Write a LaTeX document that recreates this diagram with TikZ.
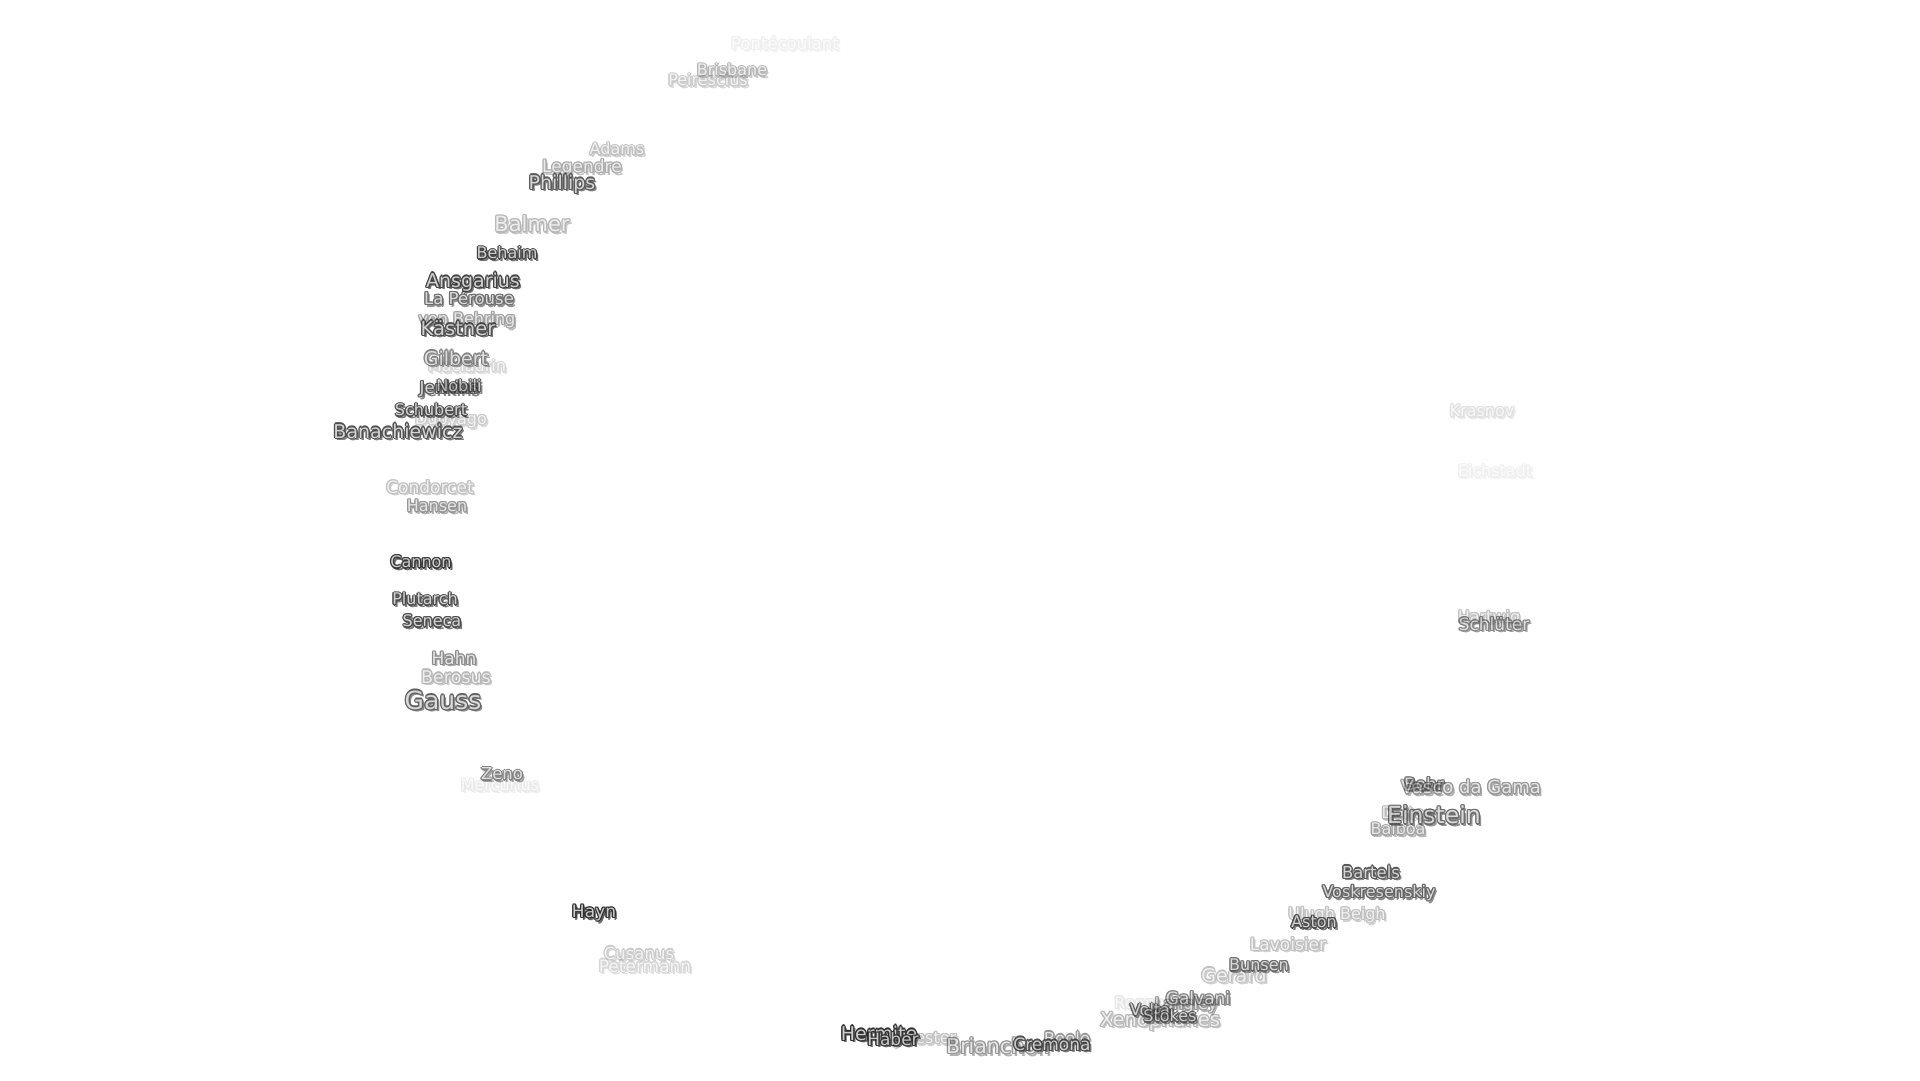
\documentclass[tikz,border=0pt]{standalone}
\usepackage{fontspec}
\setmainfont{DejaVu Sans}

\tikzset{
  lblface/.style={inner sep=0pt, text=black!20},
  lblrim/.style={inner sep=0pt, text=black!82},
  lblshadow/.style={inner sep=0pt, text=black!60},
}

\begin{document}
\begin{tikzpicture}[x=1pt,y=-1pt]
\useasboundingbox (0,0) rectangle (1920,1080);
%\draw[step=100,gray,very thin] (0,0) grid (1920,1080); %background grid

% crater labels: name / text / x / y / size / strength
\foreach \id/\txt/\x/\y/\s/\o in {
  pontecoulant/Pontécoulant/785/43/16.5/0.08,
  peirescius/Peirescius/708/80/16/0.25,
  brisbane/Brisbane/732/70/16/0.35,
  adams/Adams/617/149/16/0.3,
  legendre/Legendre/582/168/17/0.4,
  phillips/Phillips/562/184/19/0.8,
  balmer/Balmer/532/224/21/0.35,
  behaim/Behaim/507/253/16/0.9,
  vonbehring/von Behring/467/320/16/0.45,
  laperouse/La Pérouse/469/298/16.5/0.7,
  ansgarius/Ansgarius/473/282/19/0.9,
  kastner/Kästner/458/328/19.5/0.85,
  maclaurin/Maclaurin/467/366/16/0.2,
  gilbert/Gilbert/456/358/19/0.6,
  jenkins/Jenkins/449/389/16.5/0.8,
  nobili/Nobili/459/386/16/0.75,
  dubyago/Dubyago/451/420/16/0.25,
  schubert/Schubert/431/410/16/0.85,
  banachiewicz/Banachiewicz/398/431/19/0.85,
  condorcet/Condorcet/430/487/17/0.3,
  hansen/Hansen/437/506/16/0.5,
  cannon/Cannon/421/562/16/0.95,
  plutarch/Plutarch/425/599/16/0.85,
  seneca/Seneca/432/621/16/0.85,
  berosus/Berosus/456/677/17.5/0.35,
  hahn/Hahn/454/658/17/0.55,
  gauss/Gauss/443/700/25/0.75,
  mercurius/Mercurius/500/785/16/0.1,
  zeno/Zeno/502/774/16.5/0.6,
  hayn/Hayn/594/913/17/1,
  petermann/Petermann/645/966/17/0.2,
  cusanus/Cusanus/639/953/16.5/0.25,
  sylvester/Sylvester/919/1039/16/0.3,
  hermite/Hermite/879/1033/19/1,
  haber/Haber/893/1039/17/0.95,
  brianchon/Brianchon/998/1046/20.5/0.5,
  boole/Boole/1067/1038/16.5/0.5,
  cremona/Cremona/1052/1044/17/0.85,
  xenophanes/Xenophanes/1160/1021/19.5/0.35,
  regnault/Regnault/1150/1004/16/0.12,
  langley/Langley/1186/1005/16/0.5,
  galvani/Galvani/1198/998/17/0.6,
  volta/Volta/1150/1010/16/0.75,
  stokes/Stokes/1170/1016/16/0.75,
  gerard/Gerard/1234/975/19/0.3,
  bunsen/Bunsen/1259/965/16/0.7,
  lavoisier/Lavoisier/1288/944/17/0.3,
  ulughbeigh/Ulugh Beigh/1337/915/16/0.3,
  aston/Aston/1314/922/16/0.85,
  voskresenskiy/Voskresenskiy/1379/893/16/0.75,
  bartels/Bartels/1371/872/16.5/0.8,
  balboa/Balboa/1398/829/16/0.45,
  dalton/Dalton/1408/813/16/0.35,
  bohr/Bohr/1424/784/17/0.7,
  vascodagama/Vasco da Gama/1471/787/18/0.5,
  einstein/Einstein/1434/815/23.5/0.7,
  hartwig/Hartwig/1489/618/16/0.3,
  schluter/Schlüter/1494/624/17/0.6,
  eichstadt/Eichstadt/1495/471/16/0.08,
  krasnov/Krasnov/1482/411/16/0.15}
{
  \begin{scope}[transparency group, opacity=\o, font=\fontsize{\s}{\s}\selectfont]
    \node[lblshadow] at (\x+2.4,\y+2.4) {\txt};
    \node[lblshadow] at (\x+1.6,\y+2.6) {\txt};
    \foreach \dx/\dy in {-1.3/0,1.3/0,0/-1.3,0/1.3,-0.9/-0.9,0.9/0.9,-0.9/0.9,0.9/-0.9}
      \node[lblrim] at (\x+\dx,\y+\dy) {\txt};
    \node[lblface] (\id) at (\x,\y) {\txt};
  \end{scope}
}

\end{tikzpicture}
\end{document}
